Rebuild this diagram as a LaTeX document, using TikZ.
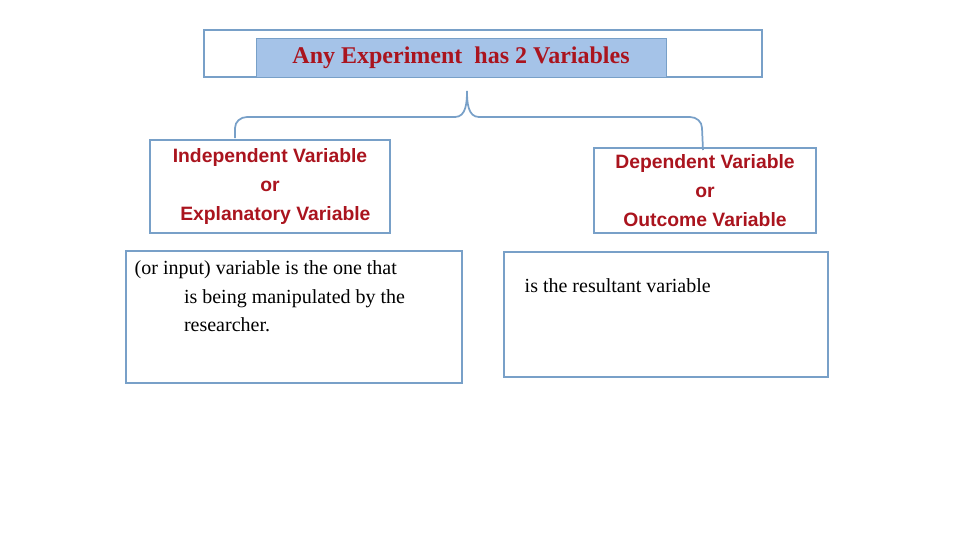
\documentclass[tikz,border=0pt]{standalone}
\usepackage{fontspec}
\setmainfont{Liberation Serif}
\newfontfamily\lsans{Liberation Sans}
\begin{document}
\begin{tikzpicture}[x=0.75pt,y=-0.75pt,
  bx/.style={draw=boxblue,line width=1.3pt},
  lab/.style={text=darkred,font=\lsans\bfseries\fontsize{14.5}{21.5}\selectfont,align=center},
  body/.style={font=\fontsize{15}{21.5}\selectfont,align=left,anchor=north west}]
\definecolor{boxblue}{RGB}{120,160,200}
\definecolor{darkred}{RGB}{170,20,30}
\definecolor{fillblue}{RGB}{165,195,232}
\useasboundingbox (0,0) rectangle (960,540);
\draw[bx] (204,30) rectangle (762,77);
\node[draw=boxblue,fill=fillblue,minimum width=410*0.75pt,minimum height=39*0.75pt,inner sep=0pt,
  text=darkred,font=\bfseries\fontsize{18}{20}\selectfont] (title) at (461,57.5) {Any Experiment\ \ has 2 Variables};
\coordinate (tip) at (467,91);
\coordinate (bl) at (235,138);
\coordinate (br) at (703,150);
\draw[boxblue,line width=1.3pt] (bl) -- (235,128) to[out=90,in=180] (247,117) -- (455,117)
  to[out=0,in=-90] (tip) to[out=-90,in=180] (479,117) -- (690,117) to[out=0,in=90] (702,128) -- (br);
\node[bx,lab,minimum width=240*0.75pt,minimum height=93*0.75pt,inner sep=0pt] (iv) at (270,186.5)
  {Independent Variable\\or\\\ \ Explanatory Variable};
\node[bx,lab,minimum width=222*0.75pt,minimum height=85*0.75pt,inner sep=0pt] (dv) at (705,190.5)
  {Dependent Variable\\or\\Outcome Variable};
\draw[bx] (126,251) rectangle (462,383);
\node[body] (ivt) at (130,256) {(or input) variable is the one that\\\hspace{37pt}is being manipulated by the\\\hspace{37pt}researcher.};
\draw[bx] (504,252) rectangle (828,377);
\node[body] (dvt) at (520,274) {is the resultant variable};
\end{tikzpicture}
\end{document}
